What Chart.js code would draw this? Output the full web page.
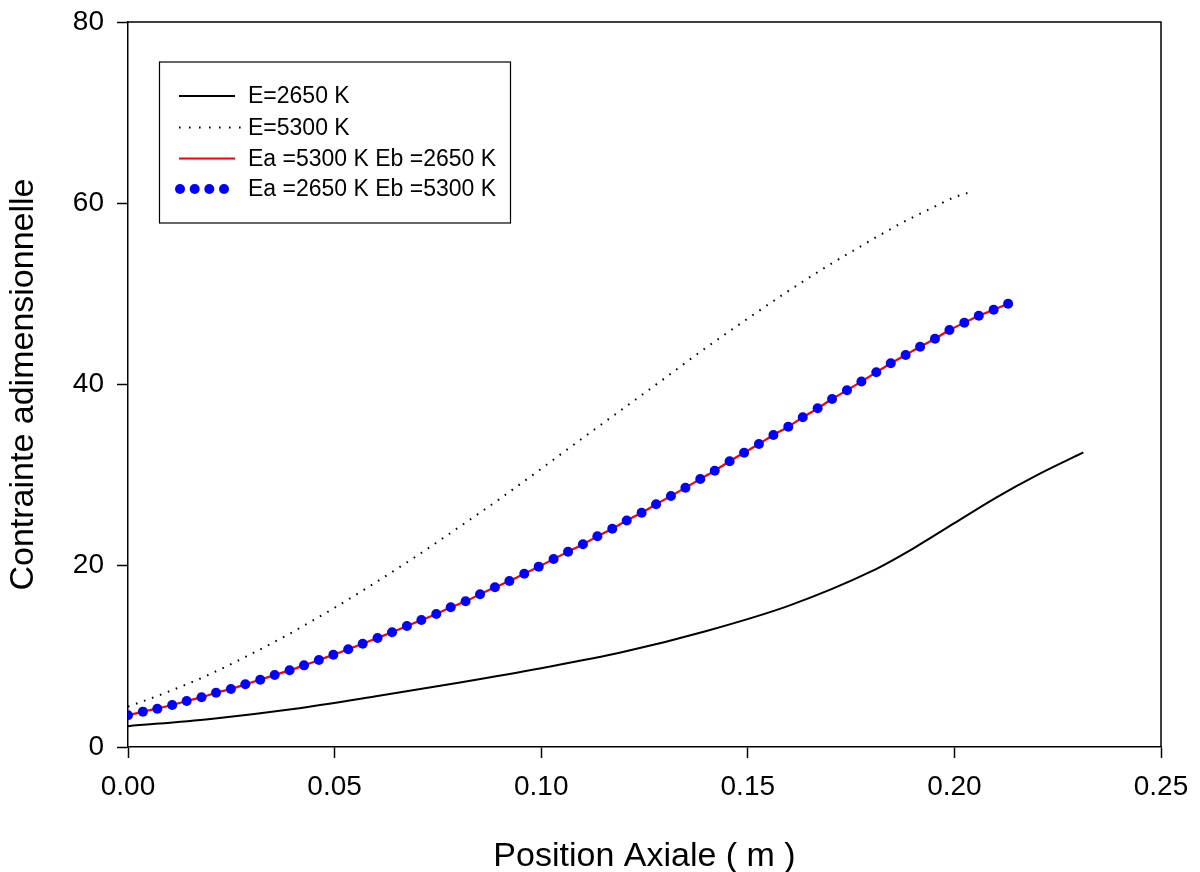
<!DOCTYPE html>
<html><head><meta charset="utf-8">
<script src="https://cdn.jsdelivr.net/npm/chart.js@4.4.0/dist/chart.umd.min.js"></script>
<style>html,body{margin:0;padding:0;background:#fff}canvas{display:block}</style>
</head><body>
<canvas id="c" width="1200" height="872" style="width:1200px;height:872px"></canvas>
<script>
// ---- data ----
const xTicks = [0, 0.05, 0.10, 0.15, 0.20, 0.25];
const yTicks = [0, 20, 40, 60, 80];
const seriesLabels = ['E=2650 K', 'E=5300 K', 'Ea =5300 K Eb =2650 K', 'Ea =2650 K Eb =5300 K'];

const xE2650 = [0, 0.02, 0.04, 0.06, 0.08, 0.10, 0.12, 0.14, 0.16, 0.18, 0.19, 0.20, 0.21, 0.22, 0.2312];
const yE2650 = [2.3, 3.1, 4.2, 5.6, 7.1, 8.7, 10.5, 12.8, 15.6, 19.4, 21.9, 24.7, 27.5, 30.0, 32.5];

const xE5300 = [0, 0.0081, 0.0185, 0.0287, 0.039, 0.0492, 0.0594, 0.0696, 0.0797, 0.0898, 0.0997, 0.1095, 0.1194, 0.1292, 0.1389, 0.1489, 0.1591, 0.1693, 0.1754, 0.1816, 0.1877, 0.1939, 0.2000, 0.2042];
const yE5300 = [4.45, 5.81, 7.76, 10.01, 12.47, 15.15, 18.0, 21.0, 24.13, 27.33, 30.60, 33.91, 37.2, 40.46, 43.73, 46.93, 50.10, 53.08, 54.73, 56.39, 57.93, 59.33, 60.66, 61.28];

const xMixed = [0.0000, 0.0036, 0.0071, 0.0107, 0.0142, 0.0178, 0.0213, 0.0249, 0.0284, 0.0320,
  0.0355, 0.0391, 0.0426, 0.0462, 0.0497, 0.0533, 0.0568, 0.0604, 0.0639, 0.0675,
  0.0710, 0.0746, 0.0781, 0.0817, 0.0852, 0.0888, 0.0923, 0.0959, 0.0994, 0.1030,
  0.1065, 0.1101, 0.1136, 0.1172, 0.1207, 0.1243, 0.1278, 0.1314, 0.1349, 0.1385,
  0.1420, 0.1456, 0.1491, 0.1527, 0.1562, 0.1598, 0.1633, 0.1669, 0.1704, 0.1740,
  0.1775, 0.1811, 0.1846, 0.1882, 0.1917, 0.1953, 0.1988, 0.2024, 0.2059, 0.2095, 0.2130];
const yEa5300Eb2650 = [3.50, 3.90, 4.23, 4.63, 5.08, 5.48, 5.99, 6.40, 6.92, 7.43,
  7.94, 8.46, 9.01, 9.60, 10.18, 10.78, 11.40, 12.03, 12.66, 13.35,
  14.01, 14.68, 15.42, 16.08, 16.85, 17.62, 18.32, 19.12, 19.90, 20.74,
  21.55, 22.37, 23.25, 24.09, 25.00, 25.85, 26.78, 27.70, 28.61, 29.57,
  30.49, 31.53, 32.47, 33.43, 34.43, 35.34, 36.38, 37.37, 38.40, 39.36,
  40.33, 41.35, 42.34, 43.26, 44.17, 45.05, 46.01, 46.82, 47.59, 48.25, 48.92];
const yEa2650Eb5300 = [3.50, 3.90, 4.23, 4.63, 5.08, 5.48, 5.99, 6.40, 6.92, 7.43,
  7.94, 8.46, 9.01, 9.60, 10.18, 10.78, 11.40, 12.03, 12.66, 13.35,
  14.01, 14.68, 15.42, 16.08, 16.85, 17.62, 18.32, 19.12, 19.90, 20.74,
  21.55, 22.37, 23.25, 24.09, 25.00, 25.85, 26.78, 27.70, 28.61, 29.57,
  30.49, 31.53, 32.47, 33.43, 34.43, 35.34, 36.38, 37.37, 38.40, 39.36,
  40.33, 41.35, 42.34, 43.26, 44.17, 45.05, 46.01, 46.82, 47.59, 48.25, 48.92];

const xTitle = 'Position Axiale ( m )';
const yTitle = 'Contrainte adimensionnelle';

// ---- chart ----
const FONT = "'Liberation Sans', Arial, Helvetica, sans-serif";
const pts = (xs, ys) => xs.map((x, i) => ({x: x, y: ys[i]}));

const frameAndLegend = {
  id: 'frameAndLegend',
  afterDraw(chart) {
    const ctx = chart.ctx, a = chart.chartArea;
    ctx.save();
    ctx.strokeStyle = '#000';
    ctx.lineWidth = 1.5;
    ctx.beginPath();
    ctx.moveTo(a.left, a.top); ctx.lineTo(a.right, a.top); ctx.lineTo(a.right, a.bottom);
    ctx.stroke();

    // legend box
    const bx = 159.5, by = 62, bw = 351, bh = 161;
    ctx.fillStyle = '#fff';
    ctx.fillRect(bx, by, bw, bh);
    ctx.lineWidth = 1.2;
    ctx.strokeRect(bx, by, bw, bh);
    const rows = [96, 127.5, 158.5, 189];
    const sx0 = 179, sx1 = 235, tx = 248;
    const order = [0, 1, 2, 3];
    ctx.font = '23px ' + FONT;
    ctx.textBaseline = 'middle';
    ctx.textAlign = 'left';
    order.forEach((di, r) => {
      const ds = chart.data.datasets[di];
      const y = rows[r];
      ctx.save();
      if (ds.showLine !== false) {
        ctx.strokeStyle = ds.borderColor;
        ctx.lineWidth = ds.borderWidth;
        ctx.setLineDash(ds.borderDash ? [1.6, 8.4] : []);
        ctx.beginPath(); ctx.moveTo(sx0, y); ctx.lineTo(ds.borderDash ? sx1 + 10 : sx1, y); ctx.stroke();
      } else {
        ctx.fillStyle = ds.pointBackgroundColor;
        [180, 194.7, 209.3, 224].forEach(cx => { ctx.beginPath(); ctx.arc(cx, y, ds.pointRadius, 0, Math.PI * 2); ctx.fill(); });
      }
      ctx.restore();
      ctx.fillStyle = '#000';
      ctx.fillText(ds.label, tx, y + 1);
    });
    ctx.restore();
  }
};

const axisCommon = {
  type: 'linear',
  grid: { drawOnChartArea: false, drawTicks: true, tickLength: 11, tickWidth: 1.5, color: '#000' },
  border: { display: true, color: '#000', width: 1.5 },
};

new Chart(document.getElementById('c'), {
  type: 'scatter',
  data: {
    datasets: [
      { label: seriesLabels[0], data: pts(xE2650, yE2650), showLine: true, borderColor: '#000', borderWidth: 2, pointRadius: 0, tension: 0.4, cubicInterpolationMode: 'monotone', order: 3 },
      { label: seriesLabels[1], data: pts(xE5300, yE5300), showLine: true, borderColor: '#000', borderWidth: 2, borderDash: [1.6, 6.9], pointRadius: 0, tension: 0.4, cubicInterpolationMode: 'monotone', order: 2 },
      { label: seriesLabels[2], data: pts(xMixed, yEa5300Eb2650), showLine: true, borderColor: '#ff0000', borderWidth: 2.2, pointRadius: 0, tension: 0.3, order: 1 },
      { label: seriesLabels[3], data: pts(xMixed, yEa2650Eb5300), showLine: false, borderColor: '#0000ff', pointBackgroundColor: '#0000ff', pointBorderColor: '#0000ff', pointBorderWidth: 0, pointRadius: 5, order: 0 }
    ]
  },
  options: {
    responsive: false,
    animation: false,
    devicePixelRatio: 1,
    layout: { padding: { top: 22, right: 39, bottom: 0, left: 0 } },
    plugins: { legend: { display: false }, tooltip: { enabled: false } },
    scales: {
      x: Object.assign({}, axisCommon, {
        position: 'bottom', min: 0, max: 0.25,
        afterBuildTicks: s => { s.ticks = xTicks.map(v => ({value: v})); },
        afterFit: s => { s.height = 125; s.paddingLeft = 0; s.paddingRight = 0; },
        ticks: { color: '#000', font: { size: 28, family: FONT }, padding: 12, maxRotation: 0, autoSkip: false, callback: v => v.toFixed(2) },
        title: { display: true, text: xTitle, color: '#000', font: { size: 34, family: FONT, lineHeight: 0.9 }, padding: { top: 0, bottom: 0 } }
      }),
      y: Object.assign({}, axisCommon, {
        position: 'left', min: 0, max: 80,
        afterBuildTicks: s => { s.ticks = yTicks.map(v => ({value: v})); },
        afterFit: s => { s.width = 128; s.paddingTop = 0; s.paddingBottom = 0; },
        ticks: { color: '#000', font: { size: 28, family: FONT }, padding: 13, autoSkip: false, callback: v => String(v) },
        title: { display: true, text: yTitle, color: '#000', font: { size: 34, family: FONT }, padding: { top: 3, bottom: 0 } }
      })
    }
  },
  plugins: [frameAndLegend]
});
</script>
</body></html>
